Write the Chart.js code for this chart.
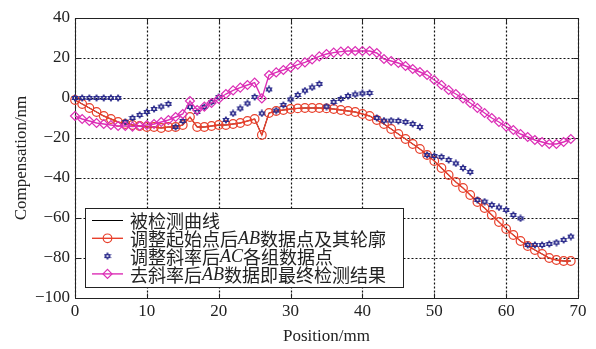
<!DOCTYPE html>
<html>
<head>
<meta charset="utf-8">
<script src="https://cdn.jsdelivr.net/npm/chart.js@4.4.1/dist/chart.umd.min.js"></script>
<style>
  html, body { margin: 0; padding: 0; background: #fff; }
  canvas { display: block; }
</style>
</head>
<body>
<canvas id="compChart" width="596" height="349"></canvas>
<script>
// Measurement positions (mm)
const positions = [
  0, 1, 2, 3, 4, 5, 6, 7, 8, 9,
  10, 11, 12, 13, 14, 15, 16, 17, 18, 19,
  20, 21, 22, 23, 24, 25, 26, 27, 28, 29,
  30, 31, 32, 33, 34, 35, 36, 37, 38, 39,
  40, 41, 42, 43, 44, 45, 46, 47, 48, 49,
  50, 51, 52, 53, 54, 55, 56, 57, 58, 59,
  60, 61, 62, 63, 64, 65, 66, 67, 68, 69
];

const seriesLabels = [
  '被检测曲线',
  '调整起始点后AB数据点及其轮廓',
  '调整斜率后AC各组数据点',
  '去斜率后AB数据即最终检测结果'
];

// AB profile after shifting the start point (nm)
const profile = [
  -1, -3, -5, -7, -9, -10.5, -12, -13, -13.5, -14,
  -14.5, -14.5, -15, -14.5, -14.5, -13.5, -9.5, -14.5, -14.5, -14,
  -13.5, -13.5, -13, -12.5, -11.5, -10.5, -18.5, -7.5, -6.5, -6,
  -5.5, -5.2, -5, -5, -5, -5.2, -5.5, -6, -6.5, -7,
  -8, -9, -11, -13, -15.5, -18, -20.5, -23, -25.5, -28.5,
  -31.5, -35, -38.5, -42, -45, -48.5, -52, -55, -58.5, -62,
  -65.5, -68.5, -71.5, -74, -76, -78, -80, -81, -81.5, -81.5
];

// AC groups of seven points after slope adjustment (nm)
const groupPoints = [
  0, 0, 0, 0, 0, 0, 0,
  -12, -10, -8.5, -7, -5.5, -4.3, -3,
  -14.5, -11.5, -4.5, -7, -4.5, -2, 0.5,
  -11, -7.7, -5.2, -2.7, 0.5, -7.7, 4.3,
  -6.3, -3.5, -0.7, 1.5, 3.7, 5.3, 7,
  -4.3, -2, -0.5, 1, 1.8, 2.3, 2.5,
  -10, -11.3, -11.3, -11.5, -12, -13, -14.5,
  -28.5, -29, -29.5, -31, -32.7, -35, -37,
  -51, -51.8, -53.5, -54.7, -56, -58.5, -60.2,
  -73.5, -73.5, -73.5, -73, -72.3, -71, -69.3
];

// AB data with slope removed: final result (nm)
const finalResult = [
  -9, -10.5, -11.5, -12.5, -13, -13.5, -14, -14, -14.3, -14,
  -13.5, -13, -12, -11, -9.5, -8, -1.5, -6, -4.3, -2.5,
  -0.5, 2, 3.8, 5.2, 6.5, 7.7, -0.2, 11.5, 12.8, 14,
  15.3, 16.7, 17.8, 19.3, 20.8, 22, 22.7, 23.2, 23.5, 23.5,
  23.5, 23.5, 22.5, 19.5, 18.5, 17.5, 16, 14.5, 13, 11.5,
  9, 6.5, 4, 2, -0.2, -2.5, -5, -7.5, -10, -12,
  -14.3, -16, -18, -19.5, -21, -22, -23, -23, -22, -20.5
];

const xTicks = [0, 10, 20, 30, 40, 50, 60, 70];
const yTicks = [40, 20, 0, -20, -40, -60, -80, -100];

const RED = '#e8402c';
const BLUE = '#2c2c8c';
const MAGENTA = '#dc2fb6';
const SERIF = '"Liberation Serif", "Times New Roman", serif';

const toPoints = vals => positions.map((x, i) => ({ x: x, y: vals[i] }));

// six-pointed star marker
function hexagram(size, color) {
  const c = document.createElement('canvas');
  c.width = c.height = size;
  const g = c.getContext('2d');
  const r = size / 2 - 1, cx = size / 2, cy = size / 2;
  g.strokeStyle = color;
  g.lineWidth = 1.2;
  [-Math.PI / 2, Math.PI / 2].forEach(rot => {
    g.beginPath();
    for (let k = 0; k < 3; k++) {
      const a = rot + k * 2 * Math.PI / 3;
      const px = cx + r * Math.cos(a), py = cy + r * Math.sin(a);
      if (k) g.lineTo(px, py); else g.moveTo(px, py);
    }
    g.closePath();
    g.stroke();
  });
  return c;
}

// dotted grid, inward ticks and the black frame round the plot area
const plotFrame = {
  id: 'plotFrame',
  beforeDatasetsDraw(chart) {
    const { ctx, chartArea: a, scales } = chart;
    const L = Math.round(a.left) + 0.5, R = Math.round(a.right) + 0.5;
    const T = Math.round(a.top) + 0.5, B = Math.round(a.bottom) + 0.5;
    ctx.save();
    ctx.strokeStyle = '#111';
    ctx.lineWidth = 1.2;
    ctx.setLineDash([2, 2]);
    ctx.beginPath();
    xTicks.forEach(v => {
      const px = Math.round(scales.x.getPixelForValue(v)) + 0.5;
      ctx.moveTo(px, T); ctx.lineTo(px, B);
    });
    yTicks.forEach(v => {
      const py = Math.round(scales.y.getPixelForValue(v)) + 0.5;
      ctx.moveTo(L, py); ctx.lineTo(R, py);
    });
    ctx.stroke();
    ctx.setLineDash([]);
    ctx.lineWidth = 1;
    ctx.strokeStyle = '#222';
    ctx.beginPath();
    xTicks.forEach(v => {
      const px = Math.round(scales.x.getPixelForValue(v)) + 0.5;
      ctx.moveTo(px, B); ctx.lineTo(px, B - 5);
      ctx.moveTo(px, T); ctx.lineTo(px, T + 5);
    });
    yTicks.forEach(v => {
      const py = Math.round(scales.y.getPixelForValue(v)) + 0.5;
      ctx.moveTo(L, py); ctx.lineTo(L + 5, py);
      ctx.moveTo(R, py); ctx.lineTo(R - 5, py);
    });
    ctx.stroke();
    ctx.strokeRect(L, T, R - L, B - T);
    ctx.restore();
  }
};

// boxed legend inside the lower left of the plot
const boxLegend = {
  id: 'boxLegend',
  afterDraw(chart) {
    const { ctx, chartArea } = chart;
    const left = chartArea.left + 10, top = chartArea.bottom - 90;
    const width = 318, height = 79, rowH = 17.8;
    ctx.save();
    ctx.fillStyle = '#fff';
    ctx.fillRect(left, top, width, height);
    ctx.strokeStyle = '#222';
    ctx.lineWidth = 1;
    ctx.strokeRect(left + 0.5, top + 0.5, width, height);
    chart.data.datasets.forEach((ds, i) => {
      const y = top + 12.5 + i * rowH;
      const x1 = left + 7, x2 = left + 38, xm = (x1 + x2) / 2;
      if (ds.showLine !== false) {
        ctx.strokeStyle = ds.borderColor;
        ctx.lineWidth = ds.borderWidth;
        ctx.beginPath();
        ctx.moveTo(x1, y);
        ctx.lineTo(x2, y);
        ctx.stroke();
      }
      if (ds.pointRadius > 0) {
        ctx.strokeStyle = ds.pointBorderColor;
        ctx.fillStyle = 'rgba(0,0,0,0)';
        ctx.lineWidth = ds.pointBorderWidth;
        Chart.helpers.drawPoint(ctx, {
          pointStyle: ds.pointStyle, radius: ds.pointRadius,
          borderWidth: ds.pointBorderWidth, rotation: 0
        }, xm, y);
      }
      let tx = left + 45;
      ctx.fillStyle = '#222';
      ctx.textBaseline = 'middle';
      ds.label.match(/[A-Za-z]+|[^A-Za-z]+/g).forEach(run => {
        ctx.font = /[A-Za-z]/.test(run) ? 'italic 18px ' + SERIF : '18px "Noto Sans CJK SC"';
        ctx.fillText(run, tx, y + 1);
        tx += ctx.measureText(run).width;
      });
    });
    ctx.restore();
  }
};

const minus = v => (v < 0 ? '\u2212' + Math.abs(v) : String(v));

new Chart(document.getElementById('compChart'), {
  type: 'line',
  data: {
    datasets: [
      {
        label: seriesLabels[0],
        data: toPoints(profile),
        borderColor: '#000',
        borderWidth: 1,
        pointRadius: 0,
        order: 3
      },
      {
        label: seriesLabels[1],
        data: toPoints(profile),
        borderColor: RED,
        borderWidth: 1.4,
        pointStyle: 'circle',
        pointRadius: 4.3,
        pointBorderWidth: 1.2,
        pointBorderColor: RED,
        pointBackgroundColor: 'rgba(0,0,0,0)',
        order: 2
      },
      {
        label: seriesLabels[2],
        data: toPoints(groupPoints),
        showLine: false,
        borderColor: BLUE,
        borderWidth: 0,
        pointStyle: hexagram(8, BLUE),
        pointRadius: 4,
        pointBorderWidth: 1.2,
        pointBorderColor: BLUE,
        order: 1
      },
      {
        label: seriesLabels[3],
        data: toPoints(finalResult),
        borderColor: MAGENTA,
        borderWidth: 1.4,
        pointStyle: 'rectRot',
        pointRadius: 4.5,
        pointBorderWidth: 1.2,
        pointBorderColor: MAGENTA,
        pointBackgroundColor: 'rgba(0,0,0,0)',
        order: 0
      }
    ]
  },
  options: {
    responsive: false,
    animation: false,
    events: [],
    clip: false,
    layout: { padding: { top: 18, right: 18, left: 0, bottom: 0 } },
    elements: { line: { tension: 0 } },
    plugins: { legend: { display: false }, tooltip: { enabled: false } },
    scales: {
      x: {
        type: 'linear',
        min: xTicks[0],
        max: xTicks[xTicks.length - 1],
        afterBuildTicks: s => { s.ticks = xTicks.map(v => ({ value: v })); },
        afterFit: s => { s.height = 51; },
        grid: { display: false, drawTicks: false },
        border: { display: false },
        ticks: { color: '#222', padding: 3, font: { family: SERIF, size: 17 }, maxRotation: 0 },
        title: {
          display: true, text: 'Position/mm', color: '#222',
          font: { family: SERIF, size: 17 }, padding: { top: 0, bottom: 2 }
        }
      },
      y: {
        min: yTicks[yTicks.length - 1],
        max: yTicks[0],
        afterBuildTicks: s => { s.ticks = yTicks.slice().reverse().map(v => ({ value: v })); },
        afterFit: s => { s.width = 75; },
        grid: { display: false, drawTicks: false },
        border: { display: false },
        ticks: { color: '#222', padding: 5, font: { family: SERIF, size: 17 }, callback: minus },
        title: {
          display: true, text: 'Compensation/nm', color: '#222',
          font: { family: SERIF, size: 17 }, padding: { top: 11, bottom: 0 }
        }
      }
    }
  },
  plugins: [plotFrame, boxLegend]
});
</script>
</body>
</html>
